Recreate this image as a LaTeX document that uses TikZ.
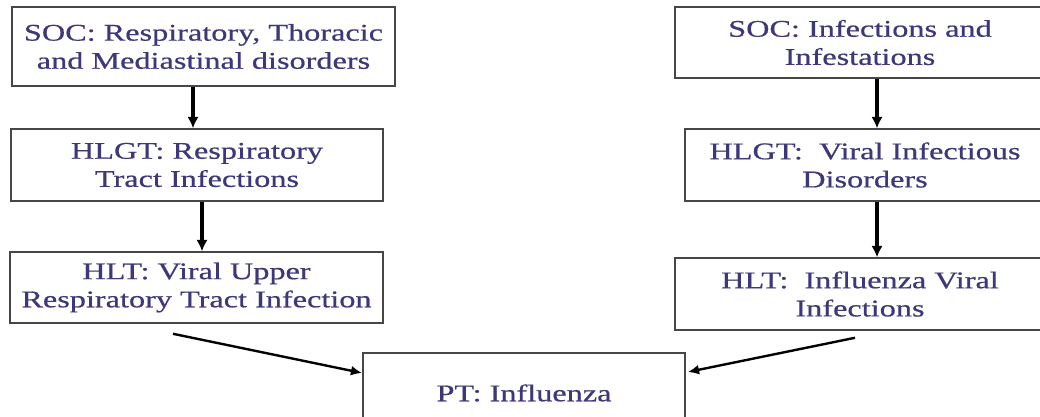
\documentclass[tikz,border=0pt]{standalone}
\usepackage{fontspec}
\setmainfont{Liberation Serif}[FakeStretch=1.35,FakeBold=0.6]
\usetikzlibrary{arrows.meta,calc}

\definecolor{termblue}{RGB}{60,56,122}
\definecolor{boxgray}{RGB}{70,70,70}

\begin{document}
\begin{tikzpicture}[
    x=0.025cm,
    y=-0.025cm,
    line join=miter,
    termbox/.style={
        draw=boxgray,
        line width=1.1pt,
        fill=white,
        text=termblue,
        align=center,
        inner sep=0pt,
        font=\fontsize{17}{20}\selectfont
    },
    downarrow/.style={
        draw=black,
        line width=2.4pt,
        -{Latex[length=8pt,width=8pt]}
    },
    slantarrow/.style={
        draw=black,
        line width=1.7pt,
        -{Latex[length=8pt,width=7pt]}
    }
]

\useasboundingbox (0,0) rectangle (1040,416);
\clip (0,0) rectangle (1040,416);

% -------------------------------------------------
% Left column: respiratory branch
% -------------------------------------------------

\node[termbox, minimum width=9.575cm, minimum height=1.975cm]
    (socL) at (203.5,46.5)
    {SOC: Respiratory, Thoracic\\and Mediastinal disorders};

\node[termbox, minimum width=9.3cm, minimum height=1.8cm]
    (hlgtL) at (197,165)
    {HLGT: Respiratory\\Tract Infections};

\node[termbox, minimum width=9.325cm, minimum height=1.775cm]
    (hltL) at (196.5,287.5)
    {HLT: Viral Upper\\Respiratory Tract Infection};

% -------------------------------------------------
% Right column: infections branch
% -------------------------------------------------

\node[termbox, minimum width=9.25cm, minimum height=1.775cm]
    (socR) at (860,42.5)
    {SOC: Infections and\\Infestations};

\node[termbox, minimum width=9cm, minimum height=1.8cm]
    (hlgtR) at (865,165)
    {HLGT:~ Viral Infectious\\Disorders};

\node[termbox, minimum width=9.25cm, minimum height=1.8cm]
    (hltR) at (860,294)
    {HLT:~ Influenza Viral\\Infections};

% -------------------------------------------------
% Preferred term
% -------------------------------------------------

\node[termbox, minimum width=8.05cm, minimum height=2cm]
    (pt) at (524,393)
    {PT: Influenza};

% -------------------------------------------------
% Arrows
% -------------------------------------------------

\coordinate (socLout)  at ($(socL.south)+(-10.5,0)$);
\coordinate (hlgtLout) at ($(hlgtL.south)+(5,0)$);
\coordinate (socRout)  at ($(socR.south)+(17,0)$);
\coordinate (hlgtRout) at ($(hlgtR.south)+(12,0)$);

\draw[downarrow] (socLout) -- (socLout |- hlgtL.north);
\draw[downarrow] (hlgtLout) -- (hlgtLout |- hltL.north);

\draw[downarrow] (socRout) -- (socRout |- hlgtR.north);
\draw[downarrow] (hlgtRout) -- (hlgtRout |- hltR.north);

\draw[slantarrow] ($(hltL.south)+(-23.5,10)$) -- ($(pt.west)+(0,-20)$);
\draw[slantarrow] ($(hltR.south)+(-5,7)$) -- ($(pt.east)+(2,-21)$);

\end{tikzpicture}
\end{document}
